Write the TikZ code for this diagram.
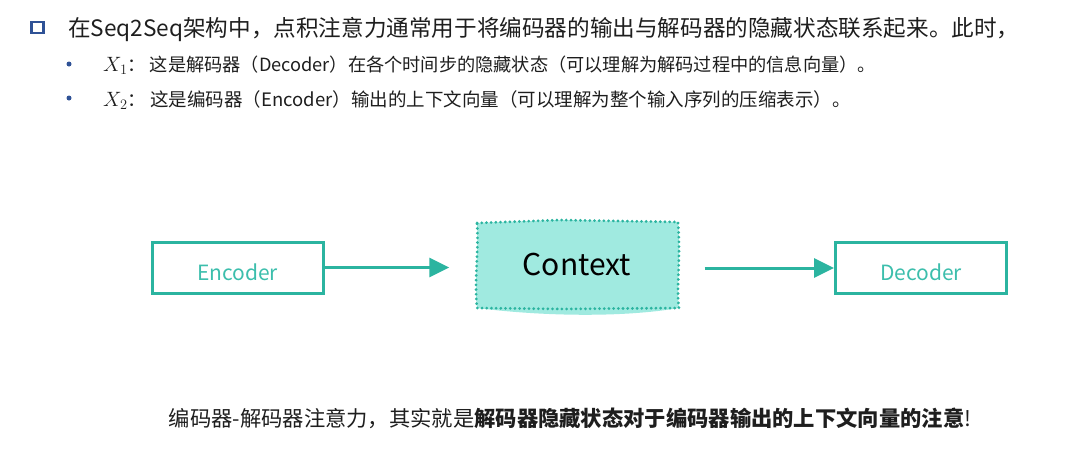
\documentclass[tikz,border=0pt]{standalone}
\usepackage{fontspec}
\setmainfont{Noto Sans CJK SC}
\usetikzlibrary{arrows.meta}

\definecolor{teal}{RGB}{43,180,160}
\definecolor{tealtext}{RGB}{60,190,172}
\definecolor{ctxfill}{RGB}{160,234,224}
\definecolor{bulletblue}{RGB}{47,82,150}
\definecolor{ink}{RGB}{30,30,30}

\newcommand{\xvar}[1]{{\fontsize{22}{24}\selectfont$X_{#1}$}}

\tikzset{
    block/.style={draw=teal, line width=3pt, minimum width=171pt, minimum height=51pt,
        text height=25pt, text depth=0pt,
        text=tealtext, font=\fontsize{21}{24}\selectfont},
    flow/.style={draw=teal, line width=3pt, -{Triangle[length=20pt,width=19pt]}},
    dotline/.style={draw=teal, line width=3pt, line cap=round, dash pattern=on 0.1pt off 4.6pt}
}

\begin{document}
\begin{tikzpicture}[x=1pt,y=-1pt]
            \useasboundingbox (0,0) rectangle (1078,474);

            \node (sq) [draw=bulletblue, line width=2.8pt, fill=white,
                minimum width=12pt, minimum height=11pt, inner sep=0pt] at (37.5,27.5) {};
            \node (line1) [anchor=west, text=ink, inner sep=0pt,
                font=\fontsize{22.6}{26}\selectfont] at (68,29)
                {在Seq2Seq架构中，点积注意力通常用于将编码器的输出与解码器的隐藏状态联系起来。此时，};

            \node (b1) [circle, fill=bulletblue, inner sep=0pt, minimum size=5pt] at (69,64) {};
            \node (b2) [circle, fill=bulletblue, inner sep=0pt, minimum size=5pt] at (69,98) {};
            \node (line2) [anchor=west, text=ink, inner sep=0pt,
                font=\fontsize{18.2}{21}\selectfont] at (103,65)
                {\xvar{1}： 这是解码器（Decoder）在各个时间步的隐藏状态（可以理解为解码过程中的信息向量）。};
            \node (line3) [anchor=west, text=ink, inner sep=0pt,
                font=\fontsize{18.5}{21}\selectfont] at (103,100)
                {\xvar{2}： 这是编码器（Encoder）输出的上下文向量（可以理解为整个输入序列的压缩表示）。};

            % the context blob, drawn by hand
            \fill[ctxfill] (477,223) -- (560,220) -- (678,222) .. controls (681,260) and (676,290) .. (679,308)
                .. controls (620,318) and (540,316) .. (477,308) .. controls (474,280) and (479,250) .. (477,223) -- cycle;
            \draw[dotline] (477,223) -- (560,220) -- (678,222) .. controls (681,260) and (676,290) .. (679,308)
                -- (560,309) -- (477,308) .. controls (474,280) and (479,250) .. (477,223) -- cycle;

            \node (enc) [block] at (237.5,267.5) {Encoder};
            \node (ctx) [minimum width=255pt, minimum height=86pt, text=black,
                font=\fontsize{30}{34}\selectfont] at (577,265) {Context};
            \node (dec) [block] at (921,268) {Decoder};

            \draw[flow] (enc.east) -- (ctx.west |- enc.east);
            \draw[flow] (ctx.east |- dec.west) -- (dec.west);

            \node (summary) [text=ink, inner sep=0pt, font=\fontsize{21.3}{25}\selectfont] at (570,418)
                {编码器-解码器注意力，其实就是\textbf{解码器隐藏状态对于编码器输出的上下文向量的注意}!};
        \end{tikzpicture}
\end{document}
